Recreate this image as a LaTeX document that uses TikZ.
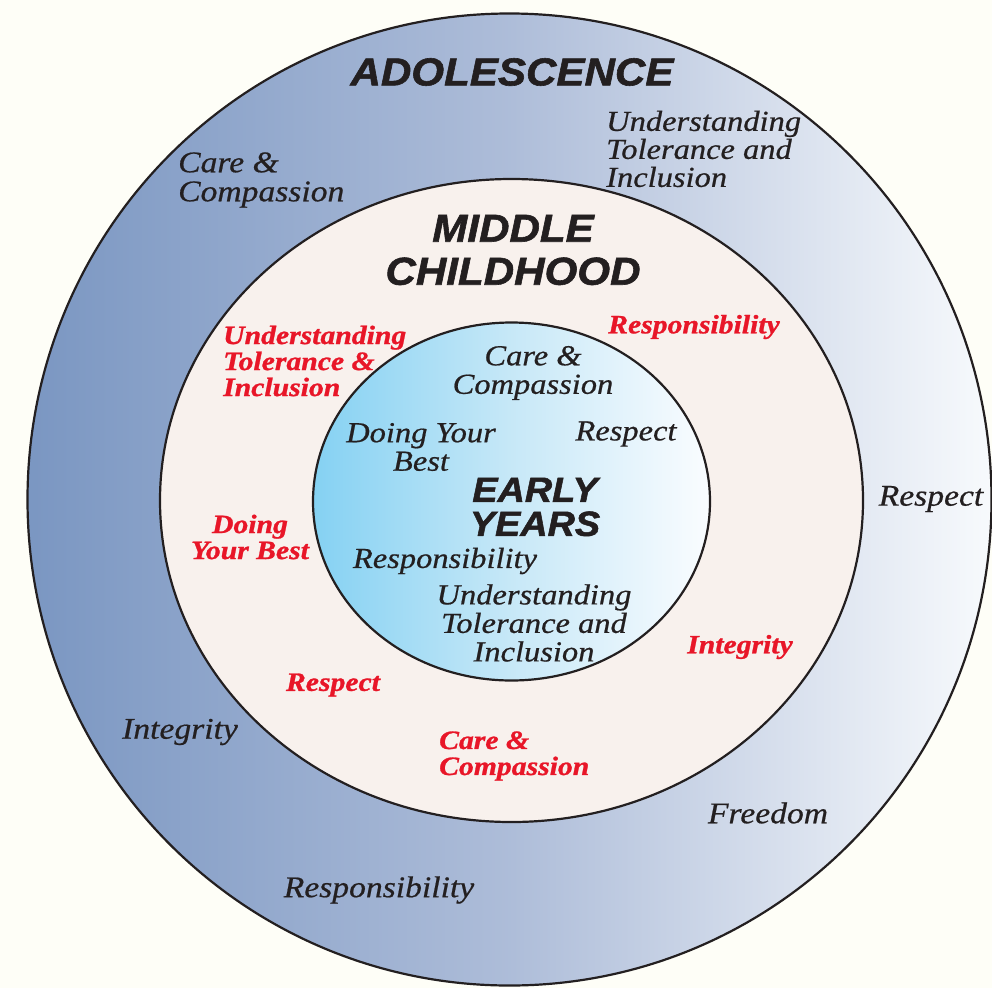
\documentclass[tikz,border=0pt]{standalone}
\usepackage{fontspec}
\newfontfamily\valfont[FakeStretch=1.12,FakeBold=0.6]{Liberation Serif}
\newfontfamily\redfont[FakeStretch=1.12,FakeBold=1]{Liberation Serif}
\newfontfamily\stagefont[FakeStretch=1.08,FakeBold=1.5]{Liberation Sans}
\definecolor{bgcream}{RGB}{254,254,247}
\definecolor{ringcream}{RGB}{248,241,237}
\definecolor{inkblack}{RGB}{35,31,32}
\definecolor{valred}{RGB}{232,22,40}
\pgfdeclarehorizontalshading{adolshade}{100bp}{rgb(0bp)=(0.48,0.59,0.76); rgb(25bp)=(0.48,0.59,0.76); rgb(50bp)=(0.68,0.74,0.85); rgb(75bp)=(0.97,0.98,0.99); rgb(100bp)=(0.97,0.98,0.99)}
\pgfdeclarehorizontalshading{earlyshade}{100bp}{rgb(0bp)=(0.52,0.82,0.95); rgb(25bp)=(0.52,0.82,0.95); rgb(50bp)=(0.78,0.91,0.97); rgb(75bp)=(0.98,0.99,1.0); rgb(100bp)=(0.98,0.99,1.0)}
\tikzset{
    outerval/.style = {inner sep=0pt, text=inkblack, font=\valfont\itshape\fontsize{30}{29}\selectfont},
    redval/.style = {inner sep=0pt, text=valred, font=\redfont\bfseries\itshape\fontsize{26.5}{26}\selectfont},
    innerval/.style = {inner sep=0pt, text=inkblack, font=\valfont\itshape\fontsize{29}{28.5}\selectfont},
    stage/.style = {inner sep=0pt, text=inkblack, align=center, font=\stagefont\bfseries\itshape\fontsize{39}{43}\selectfont},
}
\begin{document}
\begin{tikzpicture}[x=1pt, y=-1pt]
        \fill[bgcream] (0,0) rectangle (992,988);
        \useasboundingbox (0,0) rectangle (992,988);
        \shade[shading=adolshade, draw=inkblack, line width=2.2pt] (509.5,499.5) ellipse [x radius=482pt, y radius=486pt];
        \fill[ringcream, draw=inkblack, line width=2.2pt] (511.5,500.5) ellipse [x radius=351.5pt, y radius=321.5pt];
        \shade[shading=earlyshade, draw=inkblack, line width=2.2pt] (511.5,501.5) ellipse [x radius=198.5pt, y radius=179pt];

        % stages
        \node[stage] (adol) at (512,72) {ADOLESCENCE};
        \node[stage] (middle) at (513,250) {MIDDLE\\CHILDHOOD};
        \node[stage, font=\stagefont\bfseries\itshape\fontsize{35}{34}\selectfont] (early) at (535,507) {EARLY\\YEARS};

        % adolescence ring
        \node[outerval, align=left, anchor=west] (adolcare) at (178,180) {Care \&\\Compassion};
        \node[outerval, align=left, anchor=west, font=\valfont\itshape\fontsize{29}{28}\selectfont] (adoltol) at (606,149) {Understanding\\Tolerance and\\Inclusion};
        \node[outerval] (adolresp) at (931,499) {Respect};
        \node[outerval] (adolint) at (180,732) {Integrity};
        \node[outerval] (adolrspb) at (379,890) {Responsibility};
        \node[outerval] (adolfree) at (768,813) {Freedom};

        % middle childhood ring
        \node[redval, align=left, anchor=west] (midtol) at (223,361) {Understanding\\Tolerance \&\\Inclusion};
        \node[redval] (midrspb) at (694,327) {Responsibility};
        \node[redval, align=center] (middoing) at (250,537) {Doing\\Your Best};
        \node[redval] (midresp) at (333,685) {Respect};
        \node[redval, align=left, anchor=west] (midcare) at (439,756) {Care \&\\Compassion};
        \node[redval] (midint) at (740,647) {Integrity};

        % early years
        \node[innerval, align=center] (earlycare) at (533,373) {Care \&\\Compassion};
        \node[innerval, align=center] (earlydoing) at (421,447) {Doing Your\\Best};
        \node[innerval] (earlyresp) at (626,434) {Respect};
        \node[innerval] (earlyrspb) at (445,561) {Responsibility};
        \node[innerval, align=center] (earlytol) at (534,623) {Understanding\\Tolerance and\\Inclusion};
\end{tikzpicture}
\end{document}
